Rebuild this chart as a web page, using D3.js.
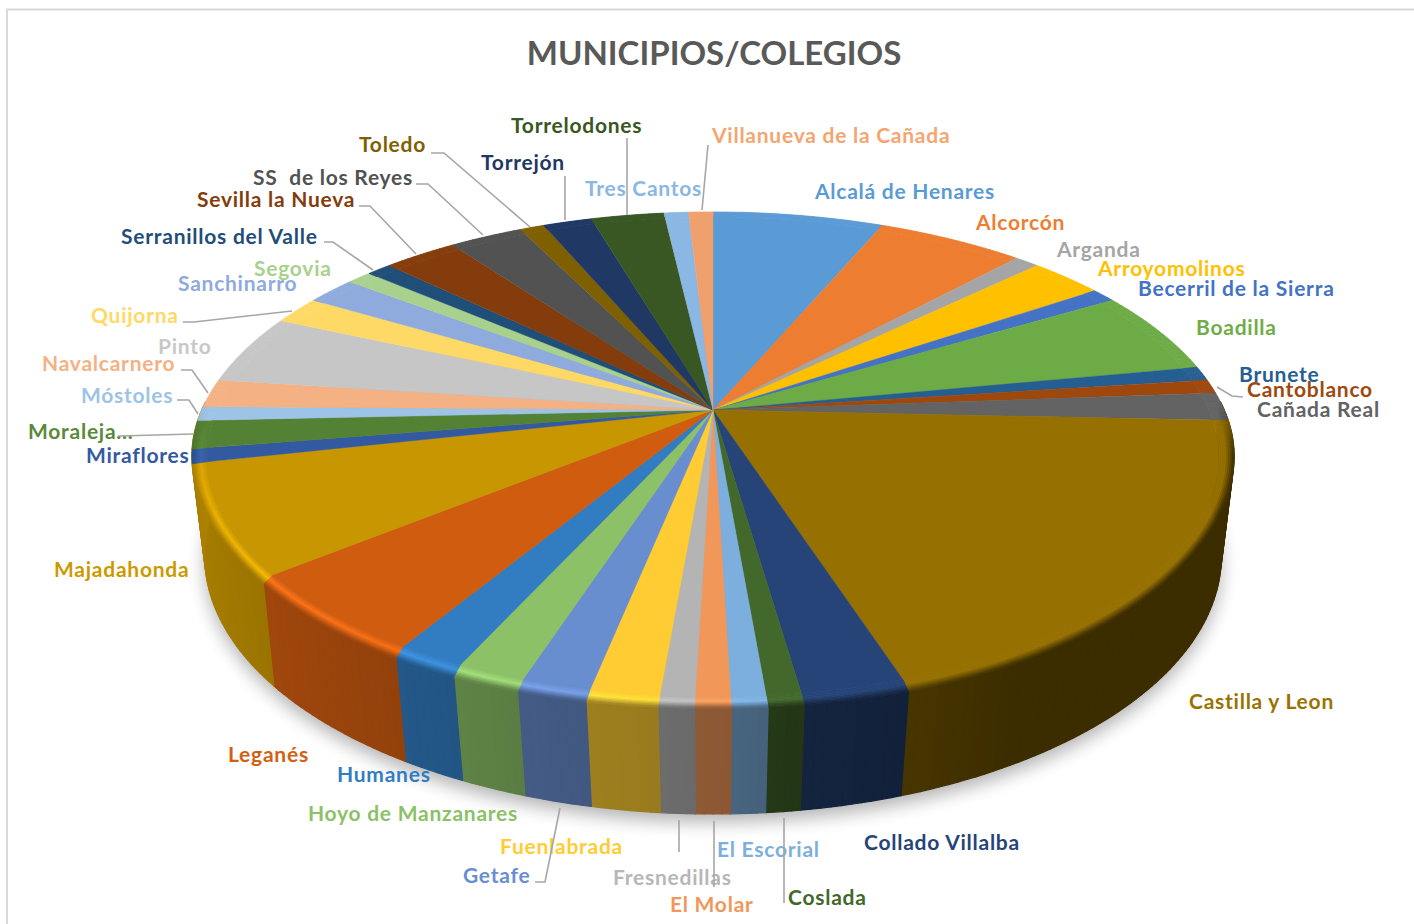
<!DOCTYPE html>
<html><head><meta charset="utf-8"><style>html,body{margin:0;background:#fff}svg{display:block}text{font-family:Lato,"Open Sans",sans-serif;font-weight:700}</style></head>
<body><svg id="c" width="1414" height="924"></svg>
<script src="https://cdn.jsdelivr.net/npm/d3@7"></script>
<script>
const title = "MUNICIPIOS/COLEGIOS";
const categories = ["Alcalá de Henares","Alcorcón","Arganda","Arroyomolinos","Becerril de la Sierra","Boadilla","Brunete","Cantoblanco","Cañada Real","Castilla y Leon","Collado Villalba","Coslada","El Escorial","El Molar","Fresnedillas","Fuenlabrada","Getafe","Hoyo de Manzanares","Humanes","Leganés","Majadahonda","Miraflores","Moraleja...","Móstoles","Navalcarnero","Pinto","Quijorna","Sanchinarro","Segovia","Serranillos del Valle","Sevilla la Nueva","SS  de los Reyes","Toledo","Torrejón","Torrelodones","Tres Cantos","Villanueva de la Cañada"];
const values = [7,6,1,3,1,6,1,1,2,21,3,1,1,1,1,2,2,2,2,6,8,1,2,1,2,5,2,2,1,1,3,3,1,2,3,1,1];
const colors = ["#5b9bd5","#ed7d31","#a5a5a5","#ffc000","#4472c4","#6cab45","#255e91","#9e480e","#636363","#967000","#264478","#43682b","#7cafdd","#f1975a","#b4b4b4","#ffcd33","#698ed0","#8cc168","#327dc2","#d05c10","#c89600","#335aa1","#548235","#9dc3e6","#f4b183","#c6c6c6","#ffd966","#8faadc","#a9d18e","#1f4e79","#843c0c","#525252","#7f6000","#203864","#385723","#8ab7e3","#f0a06c"];
const labelColors = ["#5b9bd5","#ed7d31","#a5a5a5","#ffc000","#4472c4","#70ad47","#255e91","#9e480e","#636363","#997300","#264478","#43682b","#7cafdd","#f1975a","#b7b7b7","#ffcd33","#698ed0","#8cc168","#327dc2","#d26012","#cc9a00","#335aa1","#5a8a39","#9dc3e6","#f4b183","#c8c8c8","#ffd966","#8faadc","#a9d18e","#1f4e79","#843c0c","#525252","#7f6000","#203864","#385723","#8ab7e3","#f4a570"];
const labelX = [815,976,1057,1098,1138,1196,1239,1247,1257,1189,864,788,717,670,613,500,463,308,337,228,54,86,28,81,42,158,91,178,254,121,197,253,359,481,511,585,712];
const labelY = [191,222,249,268,288,327,374,389,409,701,842,897,849,904,877,846,875,813,774,754,569,455,431,395,363,346,315,283,268,236,199,177,144,162,125,188,135];
const leaders = [
 [[359,206],[370,206],[416,254]],[[416,184],[428,184],[483,235]],[[431,153],[444,153],[530,227]],
 [[565,176],[565,220]],[[627,138],[627,215]],[[708,145],[702,210]],[[324,242],[333,242],[373,270]],
 [[183,322],[194,322],[292,311]],[[181,370],[192,370],[208,393]],[[177,400],[189,400],[198,414]],
 [[118,436],[193,434]],[[1217,387],[1232,396],[1243,397]],[[535,882],[545,882],[560,808]],
 [[679,820],[679,852]],[[714,821],[714,887]],[[784,818],[784,903]]];

const svg = d3.select("#c");
const rad = Math.PI/180;
const pie = d3.pie().sort(null).value(d=>d)(values);
// projected planes: top face and base of the drum
const T = {cx:713,cy:410,A:511.3,B:238,k:.2017};
const G = {cx:713,cy:509.6,A:500,B:249.6,k:.18};
const RIN = .97;
const proj = (P,a,r=1)=>{const X=r*Math.sin(a),Y=-r*Math.cos(a),w=1-P.k*Y;return [P.cx+P.A*X/w,P.cy+P.B*Y/w]};
// outer edge of the rounded rim
const outer = a=>{const p=proj(T,a,1),X=Math.sin(a),Y=-Math.cos(a);
  const f=Y>0?Math.min(1,(Y/.55)*(Y/.55))*Math.min(1,2*Math.abs(X)):0;
  return [T.cx+(p[0]-T.cx)*(1-.014*f),p[1]+3*f]};
const rim = (a,t)=>{const i=proj(T,a,RIN),o=outer(a);return [i[0]+(o[0]-i[0])*t,i[1]+(o[1]-i[1])*t]};
const pathOf = pts=>d3.line()(pts)+"Z";
const arcPts = (P,a0,a1,r=1)=>{const n=Math.max(2,Math.ceil((a1-a0)/rad));return d3.range(n+1).map(i=>proj(P,a0+(a1-a0)*i/n,r))};
const wallF = d3.scaleLinear().domain([90,150,165,172,178,185,195,205,215,225,245,270]).range([.4,.4,.5,.52,.58,.6,.63,.68,.72,.75,.82,.87]).clamp(true);
const hiF = d3.scaleLinear().domain([165,190,230,250,275]).range([1,1.12,1.25,1.16,1]).clamp(true);
const mul = (c,f)=>{const q=d3.rgb(c);return d3.rgb(q.r*f,q.g*f,q.b*f).formatHex()};

const defs = svg.append("defs");
const fl = defs.append("filter").attr("id","sh").attr("x","-10%").attr("y","-10%").attr("width","120%").attr("height","125%");
fl.append("feGaussianBlur").attr("stdDeviation",9);

svg.append("rect").attr("width",1414).attr("height",924).attr("fill","#fff");
svg.append("path").attr("d","M7,924V9.5H1414").attr("fill","none").attr("stroke","#d9d9d9").attr("stroke-width",2);

// shadow
svg.append("path").attr("d",pathOf(arcPts(G,0,2*Math.PI))).attr("transform","translate(0,8)").attr("fill","#000").attr("opacity",.3).attr("filter","url(#sh)");

// walls: only the slices facing the viewer; the two end slices wrap round the silhouette
const wall = svg.append("g");
const firstFront = categories.indexOf("Castilla y Leon"), lastFront = categories.indexOf("Majadahonda");
pie.forEach((s,i)=>{
  if(i<firstFront||i>lastFront) return;
  const a=i===firstFront?88*rad:s.startAngle, b=i===lastFront?272*rad:s.endAngle;
  const n=Math.ceil((b-a)/rad);
  d3.range(n).forEach(j=>{
    const a0=a+(b-a)*j/n,a1=a+(b-a)*(j+1)/n,deg=(a0+a1)/2/rad;
    const p=[outer(a0),outer(a1),proj(G,a1),proj(G,a0)];
    const col=mul(colors[i],wallF(deg));
    wall.append("path").attr("d",pathOf(p)).attr("fill",col).attr("stroke",col).attr("stroke-width",1.2).attr("stroke-linejoin","round");
  });
});

// rim
const bev = svg.append("g");
const RSTEPS=8;
pie.forEach((s,i)=>{
  const n=Math.ceil((s.endAngle-s.startAngle)/rad);
  d3.range(n).forEach(j=>{
    const a0=s.startAngle+(s.endAngle-s.startAngle)*j/n,a1=s.startAngle+(s.endAngle-s.startAngle)*(j+1)/n;
    const am=(a0+a1)/2,deg=am/rad,Y=-Math.cos(am);
    const m=Math.max(0,Math.min(1,(Y+.02)/.2));
    const base=colors[i],hi=mul(base,hiF(deg)),wc=mul(base,wallF(deg));
    d3.range(RSTEPS).forEach(k=>{
      const t=(k+.5)/RSTEPS;
      const c=t<.45?d3.interpolateRgb(base,hi)(t/.45):d3.interpolateRgb(hi,wc)((t-.45)/.55);
      const col=d3.interpolateRgb(base,c)(m);
      const p=[rim(a0,k/RSTEPS),rim(a1,k/RSTEPS),rim(a1,(k+1)/RSTEPS),rim(a0,(k+1)/RSTEPS)];
      bev.append("path").attr("d",pathOf(p)).attr("fill",col).attr("stroke",col).attr("stroke-width",.7);
    });
  });
});

// top face
svg.append("g").selectAll("path").data(pie).join("path")
  .attr("d",s=>pathOf([[T.cx,T.cy],...arcPts(T,s.startAngle,s.endAngle,RIN)]))
  .attr("fill",(s,i)=>colors[i]).attr("stroke",(s,i)=>colors[i]).attr("stroke-width",.4);

// title
svg.append("text").text(title).attr("x",714).attr("y",65).attr("text-anchor","middle").attr("font-size",33).attr("fill","#595959");

// labels
svg.append("g").selectAll("text").data(categories).join("text")
  .text(d=>d).attr("xml:space","preserve").style("white-space","pre").style("letter-spacing","0.75px")
  .attr("x",(d,i)=>labelX[i]).attr("y",(d,i)=>labelY[i]+.5).attr("dy",".35em")
  .attr("font-size",21).attr("fill",(d,i)=>labelColors[i]);

// leaders
svg.append("g").selectAll("path").data(leaders).join("path")
  .attr("d",d=>d3.line()(d)).attr("fill","none").attr("stroke","#a6a6a6").attr("stroke-width",1.6);
</script></body></html>
